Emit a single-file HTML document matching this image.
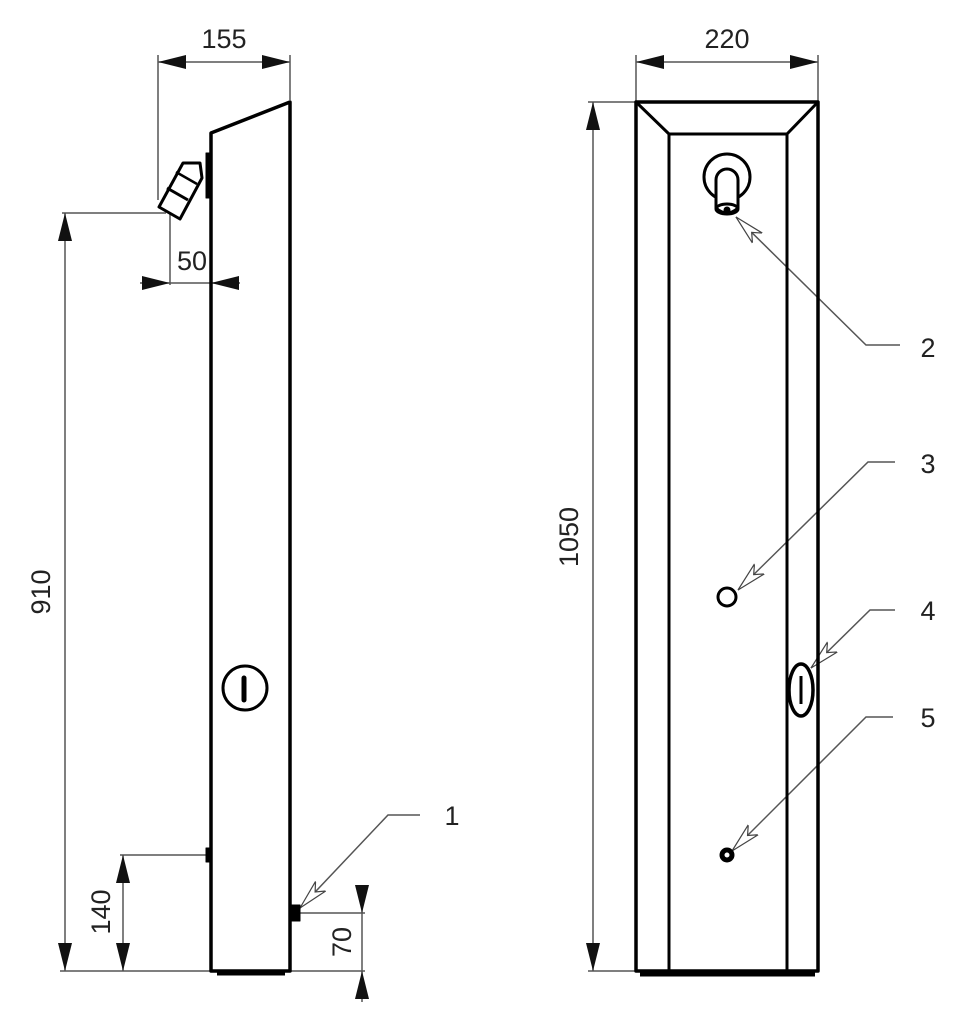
<!DOCTYPE html>
<html><head><meta charset="utf-8"><style>
html,body{margin:0;padding:0;background:#fff;}
svg{display:block;}
text{font-family:"Liberation Sans",sans-serif;font-size:27px;fill:#222;}
</style></head><body>
<svg width="965" height="1024" viewBox="0 0 965 1024" xmlns="http://www.w3.org/2000/svg">
<defs>
<marker id="a" viewBox="0 0 28 14" refX="28" refY="7" markerWidth="28" markerHeight="14" markerUnits="userSpaceOnUse" orient="auto-start-reverse"><path d="M0,0 L28,7 L0,14 Z" fill="#111"/></marker>
<marker id="h" viewBox="0 0 30 16" refX="30" refY="8" markerWidth="30" markerHeight="16" markerUnits="userSpaceOnUse" orient="auto"><path d="M0,1 L30,8 L0,15 L8,8 Z" fill="#fff" stroke="#444" stroke-width="1.2"/></marker>
</defs>
<g stroke="#555" stroke-width="1.5" fill="none">
<!-- 155 -->
<line x1="158" y1="62" x2="290" y2="62" marker-start="url(#a)" marker-end="url(#a)"/>
<line x1="158" y1="55" x2="158" y2="200"/>
<line x1="290" y1="55" x2="290" y2="100"/>
<!-- 910 -->
<line x1="62" y1="213" x2="166" y2="213"/>
<line x1="65" y1="213" x2="65" y2="971" marker-start="url(#a)" marker-end="url(#a)"/>
<line x1="60" y1="971" x2="211" y2="971"/>
<!-- 50 -->
<line x1="170" y1="213" x2="170" y2="285"/>
<line x1="140" y1="283" x2="170" y2="283" marker-end="url(#a)"/>
<line x1="240" y1="283" x2="211" y2="283" marker-end="url(#a)"/>
<line x1="170" y1="283" x2="211" y2="283"/>
<!-- 140 -->
<line x1="120" y1="855" x2="206" y2="855"/>
<line x1="123" y1="855" x2="123" y2="971" marker-start="url(#a)" marker-end="url(#a)"/>
<!-- 70 -->
<line x1="300" y1="913" x2="365" y2="913"/>
<line x1="290" y1="971" x2="365" y2="971"/>
<line x1="362" y1="885" x2="362" y2="913" marker-end="url(#a)"/>
<line x1="362" y1="1002" x2="362" y2="971" marker-end="url(#a)"/>
<line x1="362" y1="913" x2="362" y2="971"/>
<!-- leader 1 -->
<polyline points="420,815 388,815 300,908" marker-end="url(#h)"/>
<!-- 220 -->
<line x1="636" y1="62" x2="818" y2="62" marker-start="url(#a)" marker-end="url(#a)"/>
<line x1="636" y1="55" x2="636" y2="102"/>
<line x1="818" y1="55" x2="818" y2="102"/>
<!-- 1050 -->
<line x1="588" y1="102" x2="636" y2="102"/>
<line x1="588" y1="971" x2="636" y2="971"/>
<line x1="593" y1="102" x2="593" y2="971" marker-start="url(#a)" marker-end="url(#a)"/>
<!-- leaders right -->
<polyline points="900,345 866,345 736,217" marker-end="url(#h)"/>
<polyline points="895,462 868,462 738,590" marker-end="url(#h)"/>
<polyline points="895,610 870,610 811,668" marker-end="url(#h)"/>
<polyline points="893,717 866,717 732,851" marker-end="url(#h)"/>
</g>
<!-- left body -->
<g stroke="#000" stroke-width="3.5" fill="none" stroke-linejoin="round">
<polygon points="211,133 290,102 290,971 211,971"/>
<line x1="217" y1="973" x2="285" y2="973" stroke-width="5"/>
<rect x="206" y="153" width="5" height="45" fill="#000" stroke-width="1"/>
<polygon points="159,207 180,219 202,178 200,163 183,163" stroke-width="3" fill="#fff"/>
<line x1="167" y1="188" x2="188" y2="200" stroke-width="3"/>
<line x1="176" y1="172" x2="197" y2="184" stroke-width="2.5"/>
<circle cx="245" cy="688" r="22" stroke-width="3"/>
<line x1="244" y1="678" x2="244" y2="700" stroke-width="5" stroke-linecap="round"/>
<rect x="206" y="848" width="5" height="14" fill="#000" stroke-width="1"/>
<rect x="290" y="905" width="10" height="16" fill="#000" stroke-width="1"/>
</g>
<!-- right body -->
<g stroke="#000" stroke-width="3.5" fill="none" stroke-linejoin="round">
<rect x="636" y="102" width="182" height="869"/>
<rect x="669" y="134" width="118" height="837" stroke-width="3"/>
<line x1="636" y1="102" x2="669" y2="134" stroke-width="3"/>
<line x1="818" y1="102" x2="787" y2="134" stroke-width="3"/>
<line x1="640" y1="974" x2="815" y2="974" stroke-width="5"/>
<circle cx="727" cy="177" r="23" stroke-width="3"/>
<path d="M716,200 V180 A11,11 0 0 1 738,180 V200" stroke-width="3"/>
<path d="M716,180 V208 Q727,218 738,208 V180" stroke-width="3" fill="#fff"/>
<ellipse cx="727" cy="209" rx="11" ry="5" stroke-width="3"/>
<circle cx="727" cy="210" r="3" fill="#000" stroke-width="1"/>
<circle cx="727" cy="597" r="9" stroke-width="3"/>
<ellipse cx="801" cy="690" rx="12" ry="26" stroke-width="3.5" fill="#fff"/>
<line x1="801" y1="676" x2="801" y2="704" stroke-width="3"/>
<circle cx="727" cy="855" r="5" stroke-width="5"/>
</g>
<text x="224" y="48" text-anchor="middle">155</text>
<text x="192" y="270" text-anchor="middle">50</text>
<text x="727" y="48" text-anchor="middle">220</text>
<text transform="translate(50,592) rotate(-90)" text-anchor="middle">910</text>
<text transform="translate(110,912) rotate(-90)" text-anchor="middle">140</text>
<text transform="translate(351,942) rotate(-90)" text-anchor="middle">70</text>
<text transform="translate(578,537) rotate(-90)" text-anchor="middle">1050</text>
<text x="452" y="825" text-anchor="middle">1</text>
<text x="928" y="357" text-anchor="middle">2</text>
<text x="928" y="473" text-anchor="middle">3</text>
<text x="928" y="620" text-anchor="middle">4</text>
<text x="928" y="727" text-anchor="middle">5</text>
</svg>
</body></html>
